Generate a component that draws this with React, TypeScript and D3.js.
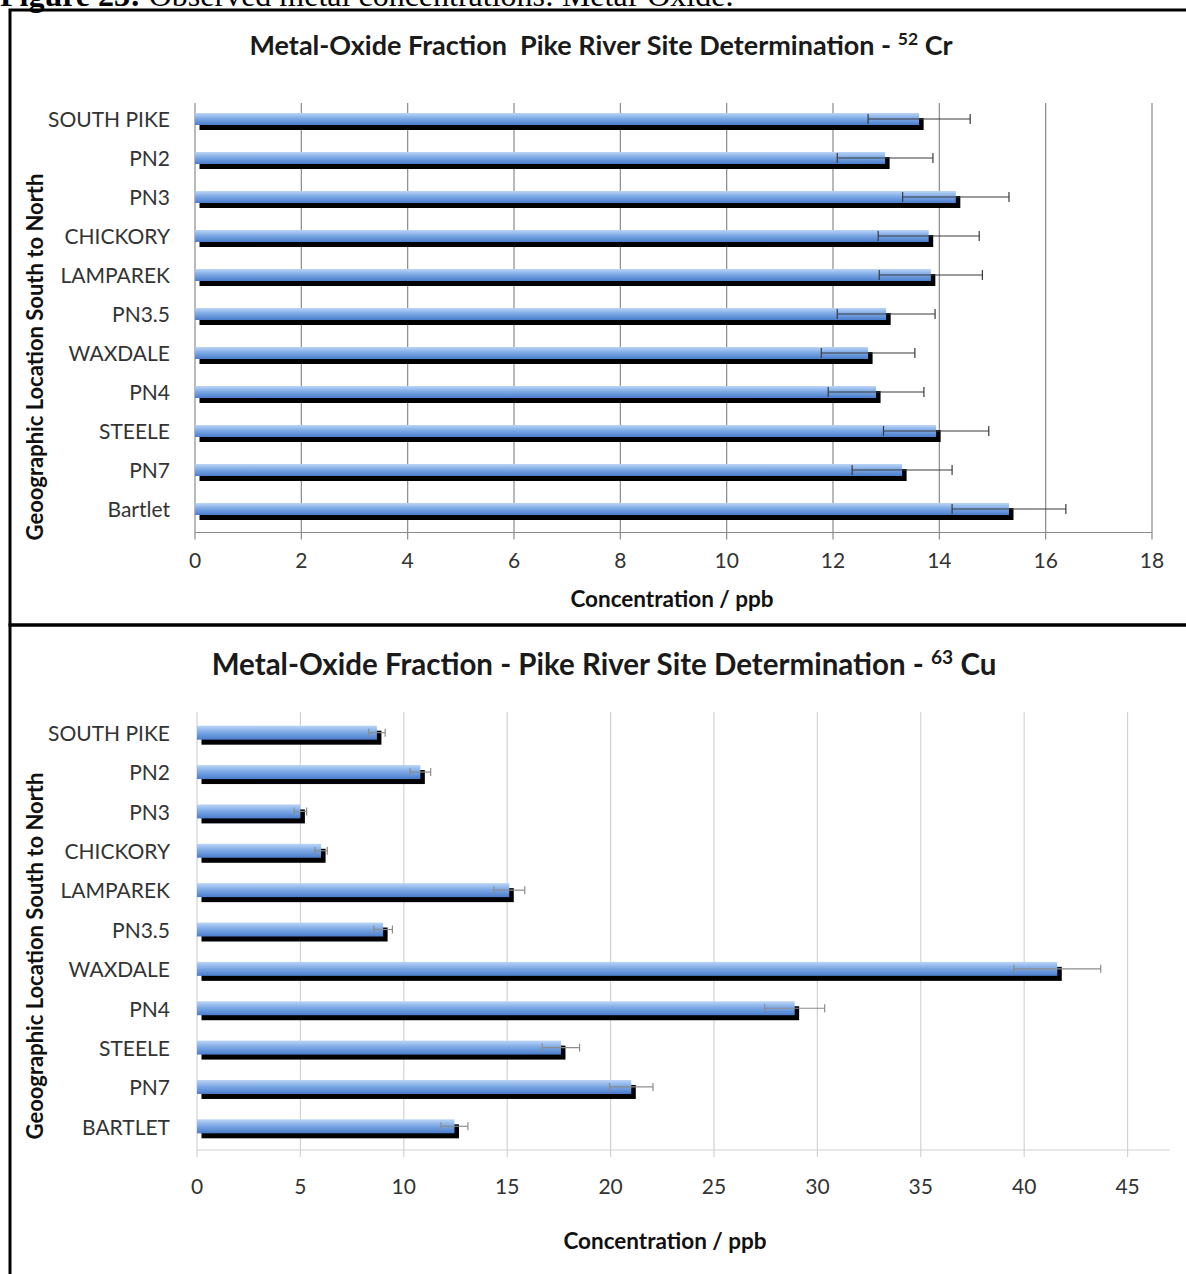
import React from "react";
import * as d3 from "d3";

const crSites = ["SOUTH PIKE", "PN2", "PN3", "CHICKORY", "LAMPAREK", "PN3.5", "WAXDALE", "PN4", "STEELE", "PN7", "Bartlet"];
const crValues = [13.62, 12.98, 14.31, 13.8, 13.84, 13.0, 12.66, 12.81, 13.94, 13.3, 15.31];
const crErrors = [0.96, 0.9, 1.0, 0.95, 0.97, 0.92, 0.88, 0.9, 0.99, 0.94, 1.07];
const crTicks = [0, 2, 4, 6, 8, 10, 12, 14, 16, 18];

const cuSites = ["SOUTH PIKE", "PN2", "PN3", "CHICKORY", "LAMPAREK", "PN3.5", "WAXDALE", "PN4", "STEELE", "PN7", "BARTLET"];
const cuValues = [8.7, 10.8, 5.0, 6.0, 15.1, 9.0, 41.6, 28.9, 17.6, 21.0, 12.45];
const cuErrors = [0.4, 0.5, 0.3, 0.3, 0.75, 0.45, 2.1, 1.45, 0.9, 1.05, 0.65];
const cuTicks = [0, 5, 10, 15, 20, 25, 30, 35, 40, 45];

const FONT = "Lato, 'Open Sans', sans-serif";

type PanelProps = {
  sites: string[];
  values: number[];
  errors: number[];
  ticks: number[];
  xMax: number;
  x0: number;
  x1: number;
  axisEnd: number;
  yTop: number;
  yBottom: number;
  gridTop: number;
  gridColor: string;
  errColor: string;
  barH: number;
  capH: number;
  title: string;
  sup: string;
  elem: string;
  titleX: number;
  titleY: number;
  titleSize: number;
  tickY: number;
  axisTitleX: number;
  axisTitleY: number;
  yTitleY: number;
  id: string;
};

function Panel(p: PanelProps) {
  const x = d3.scaleLinear().domain([0, p.xMax]).range([p.x0, p.x1]);
  const y = d3.scaleBand().domain(p.sites).range([p.yTop, p.yBottom]);
  const bw = y.bandwidth();
  const off = 4.5;
  return (
    <g>
      <defs>
        <linearGradient id={p.id} x1="0" y1="0" x2="0" y2="1">
          <stop offset="0%" stopColor="#bcd5f6" />
          <stop offset="45%" stopColor="#7eaae6" />
          <stop offset="100%" stopColor="#4a7dcc" />
        </linearGradient>
      </defs>
      <text x={p.titleX} y={p.titleY} textAnchor="middle" fontFamily={FONT} fontWeight="bold" fontSize={p.titleSize} fill="#1a1a1a" dominantBaseline="middle" style={{ whiteSpace: "pre" }}>
        {p.title}
        <tspan fontSize={p.titleSize * 0.65} dy={-8}>{p.sup}</tspan>
        <tspan dy={8}>{" " + p.elem}</tspan>
      </text>
      {p.ticks.map((t) => (
        <line key={"g" + t} x1={x(t)} x2={x(t)} y1={p.gridTop} y2={p.yBottom + 8} stroke={p.gridColor} strokeWidth={1.2} />
      ))}
      <line x1={p.x0} x2={p.axisEnd} y1={p.yBottom + 1} y2={p.yBottom + 1} stroke={p.gridColor} strokeWidth={1.2} />
      {p.sites.map((s, i) => {
        const cy = (y(s) as number) + bw / 2 - 3;
        const v = p.values[i];
        const e = p.errors[i];
        return (
          <g key={s}>
            <rect x={x(0) + off} y={cy - p.barH / 2 + 5} width={x(v) - x(0)} height={p.barH} fill="#000" />
            <rect x={x(0)} y={cy - p.barH / 2} width={x(v) - x(0)} height={p.barH} fill={`url(#${p.id})`} />
            <line x1={x(v - e)} x2={x(v + e)} y1={cy} y2={cy} stroke={p.errColor} strokeWidth={1.2} />
            <line x1={x(v - e)} x2={x(v - e)} y1={cy - p.capH / 2} y2={cy + p.capH / 2} stroke={p.errColor} strokeWidth={1.2} />
            <line x1={x(v + e)} x2={x(v + e)} y1={cy - p.capH / 2} y2={cy + p.capH / 2} stroke={p.errColor} strokeWidth={1.2} />
            <text x={170} y={(y(s) as number) + bw / 2} textAnchor="end" dominantBaseline="middle" fontFamily={FONT} fontSize={21} fill="#333">
              {s}
            </text>
          </g>
        );
      })}
      {p.ticks.map((t) => (
        <text key={"t" + t} x={x(t)} y={p.tickY} textAnchor="middle" dominantBaseline="middle" fontFamily={FONT} fontSize={21} fill="#333">
          {t}
        </text>
      ))}
      <text x={p.axisTitleX} y={p.axisTitleY} textAnchor="middle" dominantBaseline="middle" fontFamily={FONT} fontWeight="bold" fontSize={22.5} fill="#111">
        Concentration / ppb
      </text>
      <text transform={`translate(37,${p.yTitleY}) rotate(-90)`} textAnchor="middle" dominantBaseline="middle" fontFamily={FONT} fontWeight="bold" fontSize={22} fill="#111">
        Geoographic Location South to North
      </text>
    </g>
  );
}

export default function App() {
  return (
    <svg width={1186} height={1274} style={{ position: "absolute", left: 0, top: 0, background: "#fff" }}>
      <rect x={0} y={0} width={1186} height={1274} fill="#fff" />
      <text x={0} y={6} fontFamily="'Liberation Serif', 'Times New Roman', serif" fontSize={32} fill="#000">
        <tspan fontWeight="bold">Figure 23:</tspan>
        <tspan> Observed metal concentrations: Metal-Oxide.</tspan>
      </text>
      <rect x={10} y={10} width={1180} height={615} fill="none" stroke="#000" strokeWidth={3} />
      <rect x={10} y={625} width={1180} height={660} fill="none" stroke="#000" strokeWidth={3} />
      <Panel
        id="gradCr"
        sites={crSites}
        values={crValues}
        errors={crErrors}
        ticks={crTicks}
        xMax={18}
        x0={195}
        x1={1152}
        axisEnd={1152}
        yTop={102.5}
        yBottom={531.5}
        gridTop={103}
        gridColor="#8a8a8a"
        errColor="#3a3a3a"
        barH={12}
        capH={10}
        title={"Metal-Oxide Fraction\u00A0\u00A0Pike River Site Determination - "}
        sup="52"
        elem="Cr"
        titleX={601}
        titleY={48}
        titleSize={27}
        tickY={563}
        axisTitleX={672}
        axisTitleY={601}
        yTitleY={357}
      />
      <Panel
        id="gradCu"
        sites={cuSites}
        values={cuValues}
        errors={cuErrors}
        ticks={cuTicks}
        xMax={45}
        x0={197}
        x1={1127.6}
        axisEnd={1170}
        yTop={716}
        yBottom={1149}
        gridTop={712}
        gridColor="#d2d2d2"
        errColor="#8c8c8c"
        barH={14}
        capH={8}
        title="Metal-Oxide Fraction - Pike River Site Determination - "
        sup="63"
        elem="Cu"
        titleX={604}
        titleY={667}
        titleSize={29.5}
        tickY={1189}
        axisTitleX={665}
        axisTitleY={1243}
        yTitleY={956}
      />
    </svg>
  );
}
